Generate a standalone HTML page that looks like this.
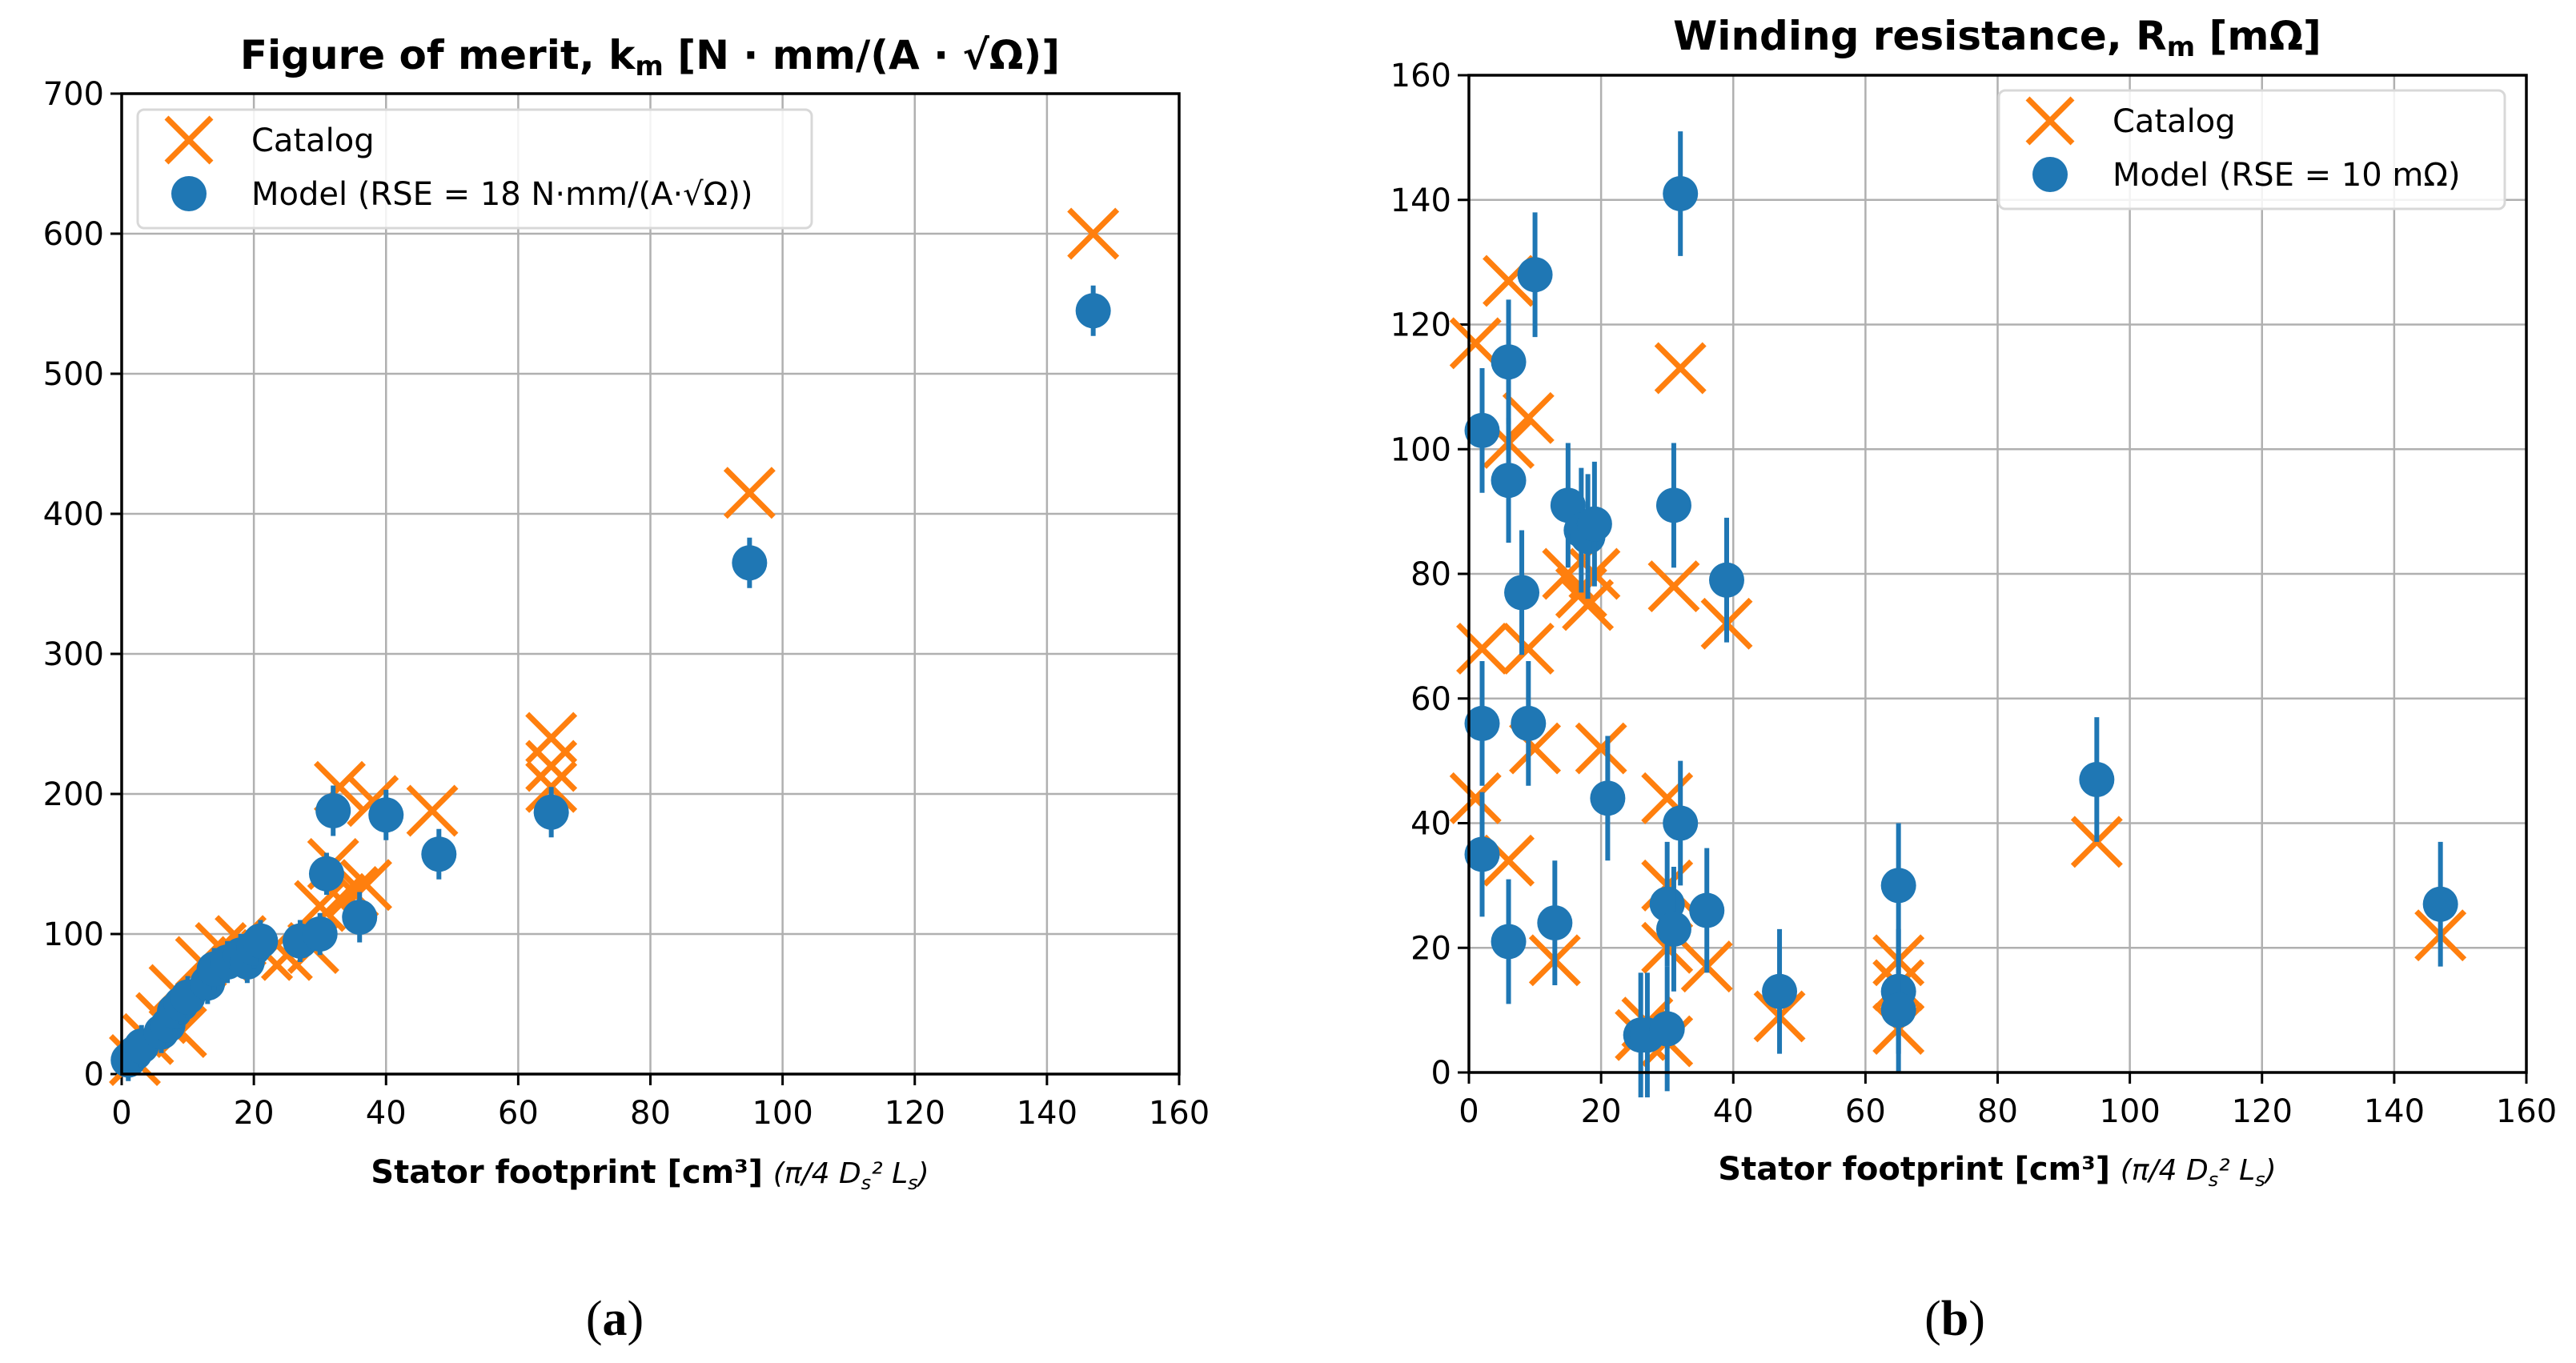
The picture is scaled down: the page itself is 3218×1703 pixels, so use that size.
<!DOCTYPE html>
<html><head><meta charset="utf-8"><style>
html,body{margin:0;padding:0;background:#fff;}
svg{display:block;font-family:"DejaVu Sans","Liberation Sans",sans-serif;}
</style></head><body>
<svg id="fig" width="3218" height="1703" viewBox="0 0 3218 1703" xmlns="http://www.w3.org/2000/svg">
<text x="812" y="86" text-anchor="middle" font-size="50" font-weight="bold">Figure of merit, k<tspan font-size="34" dy="8">m</tspan><tspan dy="-8"> [N · mm/(A · √Ω)]</tspan></text>
<text x="2495" y="62" text-anchor="middle" font-size="50" font-weight="bold">Winding resistance, R<tspan font-size="34" dy="8">m</tspan><tspan dy="-8"> [mΩ]</tspan></text>
<text x="812" y="1478" text-anchor="middle" font-size="40"><tspan font-weight="bold">Stator footprint [cm³]</tspan> <tspan font-style="italic" font-size="36">(π/4 D<tspan font-size="24" dy="8">s</tspan><tspan dy="-8">² L</tspan><tspan font-size="24" dy="8">s</tspan><tspan dy="-8">)</tspan></tspan></text>
<text x="2495" y="1474" text-anchor="middle" font-size="40"><tspan font-weight="bold">Stator footprint [cm³]</tspan> <tspan font-style="italic" font-size="36">(π/4 D<tspan font-size="24" dy="8">s</tspan><tspan dy="-8">² L</tspan><tspan font-size="24" dy="8">s</tspan><tspan dy="-8">)</tspan></tspan></text>
<text x="768" y="1668" text-anchor="middle" font-size="62" font-family="Liberation Serif, serif">(<tspan font-weight="bold">a</tspan>)</text>
<text x="2442" y="1668" text-anchor="middle" font-size="62" font-family="Liberation Serif, serif">(<tspan font-weight="bold">b</tspan>)</text>
</svg>
<script>
// Panel (a) data
const aModelX = [1,2,3,6,7,8,9,10,13,14,16,18,19,20,21,27,30,32,31,36,40,48,65,95,147];
const aModelY = [10,15,20,30,35,45,50,55,65,75,80,85,80,90,95,95,100,188,143,112,185,157,187,365,545];
const aModelErr = [15,15,15,15,15,15,15,15,15,15,15,15,15,15,15,15,15,18,15,18,18,18,18,18,18];
const aCatX = [2,4,6,8,9,12,15,18,22,25,29,30,32,33,33,35,37,38,47,65,65,65,95,147];
const aCatY = [10,25,40,60,30,80,90,95,85,85,90,120,150,205,125,130,135,195,188,240,220,205,415,600];
const aXTicks = [0,20,40,60,80,100,120,140,160];
const aYTicks = [0,100,200,300,400,500,600,700];
// Panel (b) data
const bModelX = [2,2,2,6,6,6,8,9,10,13,15,17,18,19,21,26,27,30,30,31,32,31,32,36,39,47,65,65,65,95,147];
const bModelY = [103,56,35,114,95,21,77,56,128,24,91,87,86,88,44,6,6,7,27,23,40,91,141,26,79,13,30,13,10,47,27];
const bModelErr = [10,10,10,10,10,10,10,10,10,10,10,10,10,10,10,10,10,10,10,10,10,10,10,10,10,10,10,10,10,10,10];
const bCatX = [1,1,2,6,6,6,9,9,10,13,15,17,18,19,20,26,27,30,30,30,31,32,30,36,39,47,65,65,65,95,147];
const bCatY = [117,44,68,127,101,34,68,105,52,18,80,77,75,80,52,6,8,44,30,20,78,113,5,17,72,9,18,14,7,37,22];
const bXTicks = [0,20,40,60,80,100,120,140,160];
const bYTicks = [0,20,40,60,80,100,120,140,160];

const NS='http://www.w3.org/2000/svg';
const svg=document.getElementById('fig');
function mk(tag,attrs,parent){const e=document.createElementNS(NS,tag);for(const k in attrs)e.setAttribute(k,attrs[k]);(parent||svg).appendChild(e);return e;}

function panel(p,id){
  const g=mk('g',{});
  
  
  const sx=v=>p.x0+(v-p.xmin)/(p.xmax-p.xmin)*(p.x1-p.x0);
  const sy=v=>p.y0-(v-p.ymin)/(p.ymax-p.ymin)*(p.y0-p.y1);
  p.xt.forEach(t=>{
    const l=mk('line',{x1:sx(t),x2:sx(t),y1:p.y1,y2:p.y0,stroke:'#b0b0b0','stroke-width':2.5},g);
    
    
    mk('line',{x1:sx(t),x2:sx(t),y1:p.y0,y2:p.y0+14,stroke:'#000','stroke-width':3},g);
    const tx=mk('text',{x:sx(t),y:p.y0+62,'text-anchor':'middle','font-size':40},g);
    tx.textContent=t;
    
    
  });
  p.yt.forEach(t=>{
    const l=mk('line',{x1:p.x0,x2:p.x1,y1:sy(t),y2:sy(t),stroke:'#b0b0b0','stroke-width':2.5},g);
    
    
    mk('line',{x1:p.x0-14,x2:p.x0,y1:sy(t),y2:sy(t),stroke:'#000','stroke-width':3},g);
    const tx=mk('text',{x:p.x0-22,y:sy(t)+14,'text-anchor':'end','font-size':40},g);
    tx.textContent=t;
    
    
  });
  p.cx.forEach((x,i)=>{
    const cx=sx(x),cy=sy(p.cy[i]),r=30;
    const m=mk('path',{d:`M${cx-r} ${cy-r}L${cx+r} ${cy+r}M${cx-r} ${cy+r}L${cx+r} ${cy-r}`,stroke:'#ff7f0e','stroke-width':7,fill:'none'},g);
    
    
  });
  p.mx.forEach((x,i)=>{
    const cx=sx(x),cy=sy(p.my[i]),e=p.me[i];
    const eb=mk('line',{x1:cx,x2:cx,y1:sy(p.my[i]-e),y2:sy(p.my[i]+e),stroke:'#1f77b4','stroke-width':6},g);
    
    
    const c=mk('circle',{cx:cx,cy:cy,r:22,fill:'#1f77b4'},g);
    
    
  });
  const fr=mk('rect',{x:p.x0,y:p.y1,width:p.x1-p.x0,height:p.y0-p.y1,fill:'none',stroke:'#000','stroke-width':3.5},g);
  
  
  const L=p.leg;
  const lg=mk('g',{},g);
  
  
  mk('rect',{x:L.x,y:L.y,width:L.w,height:148,rx:8,fill:'#fff','fill-opacity':0.85,stroke:'#d8d8d8','stroke-width':3},lg);
  const mx=L.x+64,r=28;
  mk('path',{d:`M${mx-r} ${L.y+38-r}L${mx+r} ${L.y+38+r}M${mx-r} ${L.y+38+r}L${mx+r} ${L.y+38-r}`,stroke:'#ff7f0e','stroke-width':7},lg);
  mk('circle',{cx:mx,cy:L.y+105,r:22,fill:'#1f77b4'},lg);
  const t1=mk('text',{x:L.x+142,y:L.y+52,'font-size':40},lg);t1.textContent='Catalog';
  
  
  const t2=mk('text',{x:L.x+142,y:L.y+119,'font-size':40},lg);t2.textContent=L.model;
  
  
}
panel({x0:152,x1:1473,y0:1342,y1:117,xmin:0,xmax:160,ymin:0,ymax:700,xt:aXTicks,yt:aYTicks,
  mx:aModelX,my:aModelY,me:aModelErr,cx:aCatX,cy:aCatY,
  leg:{x:172,y:137,w:842,model:'Model (RSE = 18 N·mm/(A·√Ω))'}},'panel-a');
panel({x0:1835,x1:3156,y0:1340,y1:94,xmin:0,xmax:160,ymin:0,ymax:160,xt:bXTicks,yt:bYTicks,
  mx:bModelX,my:bModelY,me:bModelErr,cx:bCatX,cy:bCatY,
  leg:{x:2497,y:113,w:632,model:'Model (RSE = 10 mΩ)'}},'panel-b');
</script>
</body></html>
